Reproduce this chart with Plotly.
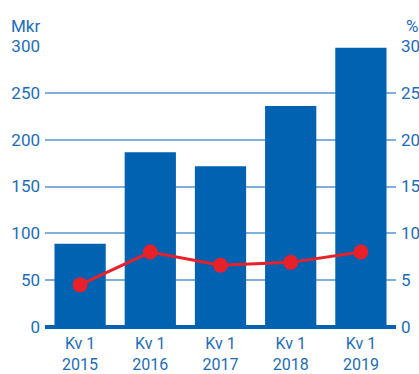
import plotly.graph_objects as go

categories = ["Kv 1<br>2015", "Kv 1<br>2016", "Kv 1<br>2017", "Kv 1<br>2018", "Kv 1<br>2019"]
revenue_mkr = [89, 186.5, 171.5, 236, 298]
margin_pct = [4.5, 8.0, 6.6, 6.9, 8.0]
left_ticks = [0, 50, 100, 150, 200, 250, 300]
right_ticks = [0, 5, 10, 15, 20, 25, 30]

BLUE = "#0062b0"
TEXT = "#1c6db6"
GRID = "#7fb0dc"
RED = "#e8202a"
FONT = "Roboto"

fig = go.Figure()
fig.add_trace(go.Bar(x=categories, y=revenue_mkr, marker=dict(color=BLUE, line=dict(width=0)),
                     yaxis="y", showlegend=False))
fig.add_trace(go.Scatter(x=categories, y=margin_pct, mode="lines+markers", yaxis="y2",
                         line=dict(color=RED, width=3), marker=dict(size=15, color=RED),
                         showlegend=False))

fig.update_layout(
    width=419, height=374,
    margin=dict(l=45, r=23, t=46, b=47),
    paper_bgcolor="white", plot_bgcolor="white",
    bargap=0.27,
    font=dict(family=FONT, size=17, color=TEXT),
    xaxis=dict(showgrid=False, showline=False, ticks="", tickfont=dict(size=16, color=TEXT),
               range=[-0.5, 4.5], automargin=False, ticklabelstandoff=5),
    yaxis=dict(range=[0, 300], tickvals=left_ticks, showgrid=True, gridcolor=GRID, gridwidth=2,
               zeroline=True, zerolinecolor=BLUE, zerolinewidth=4, ticks="",
               tickfont=dict(size=17, color=TEXT), ticklabelstandoff=4, automargin=False),
    yaxis2=dict(range=[0, 30], tickvals=right_ticks, overlaying="y", side="right", showgrid=False,
                zeroline=False, ticks="", tickfont=dict(size=17, color=TEXT), ticklabelstandoff=4,
                automargin=False),
    annotations=[
        dict(text="Mkr", xref="paper", yref="paper", x=0, xshift=-36, y=1.0, yshift=20, xanchor="left",
             yanchor="middle", showarrow=False, font=dict(size=17, color=TEXT)),
        dict(text="%", xref="paper", yref="paper", x=1.0, xshift=8, y=1.0, yshift=20, xanchor="left",
             yanchor="middle", showarrow=False, font=dict(size=17, color=TEXT)),
    ],
)
fig.write_html("out.html")
